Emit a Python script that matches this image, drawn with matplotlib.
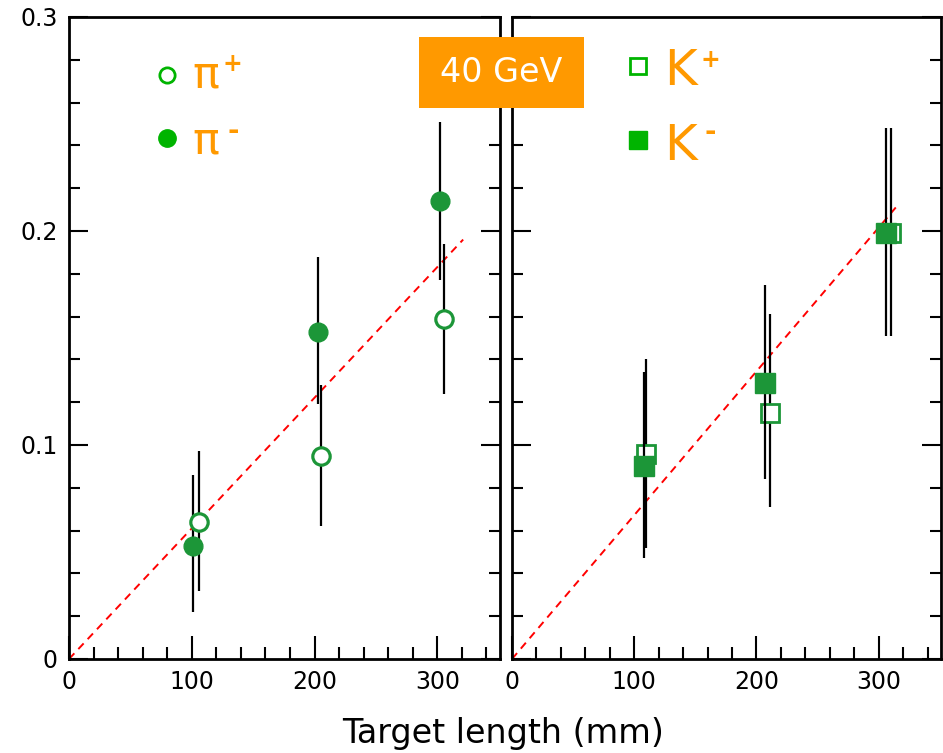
import matplotlib.pyplot as plt
from matplotlib.patches import Rectangle
from matplotlib.ticker import MultipleLocator

# pion data (target length in mm, fraction, error bar low/high)
pip_x = [106, 205, 305]
pip_y = [0.064, 0.095, 0.159]
pip_lo = [0.032, 0.062, 0.124]
pip_hi = [0.097, 0.128, 0.194]

pim_x = [101, 203, 302]
pim_y = [0.053, 0.153, 0.214]
pim_lo = [0.022, 0.119, 0.177]
pim_hi = [0.086, 0.188, 0.251]

# kaon data
kp_x = [110, 211, 310]
kp_y = [0.096, 0.115, 0.199]
kp_lo = [0.052, 0.071, 0.151]
kp_hi = [0.140, 0.161, 0.248]

km_x = [108, 207, 306]
km_y = [0.090, 0.129, 0.199]
km_lo = [0.047, 0.084, 0.151]
km_hi = [0.134, 0.175, 0.248]

# linear fits through the origin
pi_fit_x = [0, 321]
pi_fit_y = [0, 0.196]
k_fit_x = [0, 314]
k_fit_y = [0, 0.211]

green = '#1c9638'
lgreen = '#00b400'
orange = '#ff9900'

plt.rcParams['font.family'] = 'DejaVu Sans'

fig = plt.figure(figsize=(9.43, 7.53), dpi=100)
W, H = 943, 753
ax1 = fig.add_axes([69 / W, 94 / H, 431 / W, 642 / H])
ax2 = fig.add_axes([512 / W, 94 / H, 429 / W, 642 / H])


def errs(y, lo, hi):
    return [[a - b for a, b in zip(y, lo)], [b - a for a, b in zip(y, hi)]]


def style(ax, labels):
    ax.set_xlim(0, 351)
    ax.set_ylim(0, 0.3)
    ax.xaxis.set_major_locator(MultipleLocator(100))
    ax.xaxis.set_minor_locator(MultipleLocator(20))
    ax.yaxis.set_major_locator(MultipleLocator(0.1))
    ax.yaxis.set_minor_locator(MultipleLocator(0.02))
    ax.tick_params(axis='both', which='both', direction='in', width=1.5,
                   left=True, right=True, top=False, labelsize=17)
    ax.tick_params(axis='x', which='major', length=16.5, pad=8)
    ax.tick_params(axis='x', which='minor', length=8.5)
    ax.tick_params(axis='y', which='major', length=14, pad=8)
    ax.tick_params(axis='y', which='minor', length=8)
    ax.set_xticks([0, 100, 200, 300])
    ax.set_xticklabels(['0', '100', '200', '300'])
    if labels:
        ax.set_yticks([0, 0.1, 0.2, 0.3])
        ax.set_yticklabels(['0', '0.1', '0.2', '0.3'])
    else:
        ax.tick_params(axis='y', labelleft=False)
    for s in ax.spines.values():
        s.set_linewidth(2)


style(ax1, True)
style(ax2, False)

# pions
ax1.plot(pi_fit_x, pi_fit_y, color='red', ls=(0, (4, 3)), lw=1.4, zorder=1)
ax1.errorbar(pim_x, pim_y, yerr=errs(pim_y, pim_lo, pim_hi), fmt='o', ms=13.5,
             mfc=green, mec=green, ecolor='black', elinewidth=1.6, capsize=0, zorder=3)
ax1.errorbar(pip_x, pip_y, yerr=errs(pip_y, pip_lo, pip_hi), fmt='o', ms=12.5,
             mfc='white', mec=green, mew=2.3, ecolor='black', elinewidth=1.6, capsize=0, zorder=3)

# kaons
ax2.plot(k_fit_x, k_fit_y, color='red', ls=(0, (4, 3)), lw=1.4, zorder=1)
ax2.errorbar(kp_x, kp_y, yerr=errs(kp_y, kp_lo, kp_hi), fmt='s', ms=12.5,
             mfc='white', mec=green, mew=2.0, ecolor='black', elinewidth=1.6, capsize=0, zorder=3)
ax2.errorbar(km_x, km_y, yerr=errs(km_y, km_lo, km_hi), fmt='s', ms=14,
             mfc=green, mec=green, ecolor='black', elinewidth=1.6, capsize=0, zorder=4)


def px_label(ax, x0, name, sup, x, base, sx, sy, size, ssize):
    # name with a small raised charge sign, positioned in figure pixels
    w = ax.get_position().width * W
    tx = lambda p: (p - x0) / w
    ty = lambda p: (659 - p) / 642
    ax.text(tx(x), ty(base), name, color=orange, fontsize=size,
            va='baseline', transform=ax.transAxes)
    ax.text(tx(sx), ty(sy), sup, color=orange, fontsize=ssize, fontweight='bold',
            ha='center', va='center', transform=ax.transAxes)


# hand-made legends
ax1.plot([0.227], [0.910], 'o', ms=11, mfc='white', mec=lgreen, mew=2, transform=ax1.transAxes)
ax1.plot([0.227], [0.812], 'o', ms=12.5, mfc=lgreen, mec=lgreen, transform=ax1.transAxes)
px_label(ax1, 69, 'π', '+', 192, 88, 232, 64, 32, 17)
px_label(ax1, 69, 'π', '-', 192, 153, 233, 131, 32, 20)

ax2.plot([0.293], [0.924], 's', ms=12, mfc='white', mec=lgreen, mew=2, transform=ax2.transAxes)
ax2.plot([0.293], [0.808], 's', ms=13, mfc=lgreen, mec=lgreen, transform=ax2.transAxes)
px_label(ax2, 512, 'K', '+', 664, 85, 710, 60, 36, 17)
px_label(ax2, 512, 'K', '-', 664, 160, 710, 132, 36, 20)

# energy label box across both panels
fig.patches.append(Rectangle((419 / W, 1 - 108 / H), 165 / W, 71 / H,
                             transform=fig.transFigure, facecolor=orange,
                             edgecolor='none', zorder=10))
fig.text(501.5 / W, 1 - 72.5 / H, '40 GeV', color='white', fontsize=24,
         ha='center', va='center', zorder=11)

fig.text(503 / W, 1 - 733 / H, 'Target length (mm)', fontsize=24, ha='center', va='center')

fig.savefig('out.png', dpi=100)
